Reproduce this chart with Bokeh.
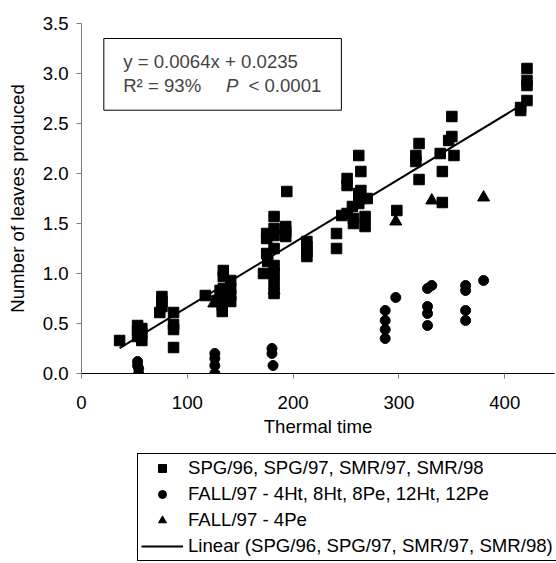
from bokeh.plotting import figure
from bokeh.layouts import column
from bokeh.models import (Legend, LegendItem, BoxAnnotation,
                          Label, FixedTicker, Range1d, NumeralTickFormatter)
from bokeh.embed import file_html
from bokeh.resources import INLINE

# ---- data ----
sq_x = [36, 53, 53, 53, 57, 57, 57, 74, 76, 76, 76, 87, 87, 87, 87,
        117, 128, 131, 133, 133, 134, 134, 134, 134, 141, 141, 141, 141,
        172, 175, 175, 175, 176, 182, 182, 182, 182, 182, 182, 182, 182,
        193, 193, 193, 194, 213, 213, 213, 213,
        241, 241, 246, 251, 251, 251, 256, 257, 257, 262, 262, 262, 264, 264, 264,
        268, 268, 270, 298, 316, 316, 319, 319, 339, 341, 341, 347, 350, 350, 352,
        415, 415, 421, 421, 421, 421]
sq_y = [0.33, 0.48, 0.43, 0.37, 0.45, 0.40, 0.33, 0.61, 0.67, 0.72, 0.77, 0.61, 0.49, 0.44, 0.26,
        0.78, 0.73, 0.83, 0.62, 0.68, 1.03, 0.97, 0.85, 0.75, 0.93, 0.85, 0.78, 0.72,
        1.00, 1.40, 1.35, 1.20, 1.12, 1.57, 1.45, 1.38, 1.25, 1.08, 1.00, 0.90, 0.80,
        1.47, 1.37, 1.42, 1.82, 1.32, 1.27, 1.22, 1.17,
        1.40, 1.25, 1.58, 1.95, 1.88, 1.60, 1.67, 1.50, 1.55, 2.18, 1.80, 1.70, 2.02, 1.83, 1.75,
        1.57, 1.47, 1.75, 1.63, 2.12, 2.18, 2.30, 1.94, 2.20, 2.02, 1.71, 2.33, 2.37, 2.57, 2.18,
        2.63, 2.66, 2.73, 2.88, 2.93, 3.05]

ci_x = [53, 53, 54, 54, 126, 126, 126, 126, 180, 180, 181,
        287, 287, 287, 287, 297, 327, 331, 327, 327, 327, 363, 363, 363, 363, 380]
ci_y = [0.12, 0.08, 0.05, 0.00, 0.20, 0.15, 0.08, 0.00, 0.25, 0.20, 0.08,
        0.63, 0.53, 0.44, 0.35, 0.76, 0.85, 0.88, 0.67, 0.60, 0.48, 0.88, 0.83, 0.63, 0.53, 0.93]

tr_x = [125, 182, 297, 331, 380]
tr_y = [0.70, 0.83, 1.52, 1.73, 1.76]

slope = 0.0064
intercept = 0.0235
fit_x = [min(sq_x), max(sq_x)]
fit_y = [slope * v + intercept for v in fit_x]

x_ticks = [0, 100, 200, 300, 400]
y_ticks = [0.0, 0.5, 1.0, 1.5, 2.0, 2.5, 3.0, 3.5]

labels = ["SPG/96, SPG/97, SMR/97, SMR/98",
          "FALL/97 - 4Ht, 8Ht, 8Pe, 12Ht, 12Pe",
          "FALL/97 - 4Pe",
          "Linear (SPG/96, SPG/97, SMR/97, SMR/98)"]

FONT = "Liberation Sans"
FS = "18.6px"


def draw_series(fig):
    a = fig.scatter(sq_x, sq_y, marker="square", size=10.5, color="black")
    b = fig.scatter(ci_x, ci_y, marker="circle", size=10, color="black")
    c = fig.scatter(tr_x, tr_y, marker="triangle", size=12, color="black")
    d = fig.line(fit_x, fit_y, line_color="black", line_width=2)
    return a, b, c, d


p = figure(frame_width=473, frame_height=350,
           x_range=Range1d(0, 447), y_range=Range1d(0, 3.5),
           output_backend="svg", toolbar_location=None,
           min_border_left=81, min_border_right=2,
           min_border_top=23, min_border_bottom=72)
p.outline_line_color = None
p.xgrid.grid_line_color = None
p.ygrid.grid_line_color = None
p.background_fill_color = "white"
p.border_fill_color = "white"
draw_series(p)

# axes
p.xaxis.ticker = FixedTicker(ticks=x_ticks)
p.yaxis.ticker = FixedTicker(ticks=y_ticks)
p.yaxis.formatter = NumeralTickFormatter(format="0.0")
for ax in (p.xaxis[0], p.yaxis[0]):
    ax.major_label_text_font = FONT
    ax.major_label_text_font_size = FS
    ax.major_label_text_color = "black"
    ax.axis_label_text_font = FONT
    ax.axis_label_text_font_size = FS
    ax.axis_label_text_font_style = "normal"
    ax.axis_label_text_color = "black"
    ax.major_tick_in = 0
    ax.major_tick_out = 5
    ax.minor_tick_in = 0
    ax.minor_tick_out = 0
    ax.major_tick_line_color = "#808080"
p.xaxis.axis_line_color = "black"
p.yaxis.axis_line_color = "#808080"
p.xaxis.axis_label = "Thermal time"
p.yaxis.axis_label = "Number of leaves produced"
p.xaxis.major_label_standoff = 17
p.xaxis.axis_label_standoff = 4
p.yaxis.major_label_standoff = 8
p.yaxis.axis_label_standoff = 12

# equation box
p.add_layout(BoxAnnotation(left=21.1, right=245.6, top=3.35, bottom=2.633,
                           fill_color=None, fill_alpha=0,
                           line_color="black", line_alpha=1, line_width=1))
p.add_layout(Label(x=39.4, y=3.116, text="y = 0.0064x + 0.0235",
                   text_font=FONT, text_font_size=FS, text_baseline="middle"))
p.add_layout(Label(x=39.4, y=2.883, text="R² = 93%",
                   text_font=FONT, text_font_size=FS, text_baseline="middle"))
p.add_layout(Label(x=136.6, y=2.883, text="P", text_font_style="italic",
                   text_font=FONT, text_font_size=FS, text_baseline="middle"))
p.add_layout(Label(x=157.8, y=2.883, text="< 0.0001",
                   text_font=FONT, text_font_size=FS, text_baseline="middle"))

# legend strip below the chart: same series redrawn off-range, only the key shows
lg = figure(frame_width=556, frame_height=118,
            x_range=Range1d(0, 1), y_range=Range1d(0, 1),
            output_backend="svg", toolbar_location=None,
            min_border_left=0, min_border_right=0,
            min_border_top=0, min_border_bottom=0)
lg.axis.visible = False
lg.grid.visible = False
lg.outline_line_color = None
lg.border_fill_color = "white"
k_sq, k_ci, k_tr, k_ln = draw_series(lg)

legend = Legend(items=[LegendItem(label=labels[0], renderers=[k_sq]),
                       LegendItem(label=labels[1], renderers=[k_ci]),
                       LegendItem(label=labels[2], renderers=[k_tr]),
                       LegendItem(label=labels[3], renderers=[k_ln])],
                location=(137, 2))
legend.label_text_font = FONT
legend.label_text_font_size = FS
legend.label_text_color = "black"
legend.glyph_width = 42
legend.glyph_height = 20
legend.label_height = 20
legend.label_standoff = 5
legend.spacing = 4
legend.padding = 3
legend.margin = 0
legend.border_line_color = "black"
legend.border_line_alpha = 1
legend.border_line_width = 1
legend.background_fill_color = "white"
legend.background_fill_alpha = 1
lg.add_layout(legend, "center")

layout = column(p, lg, spacing=0)
open("out.html", "w").write(file_html(layout, INLINE))
